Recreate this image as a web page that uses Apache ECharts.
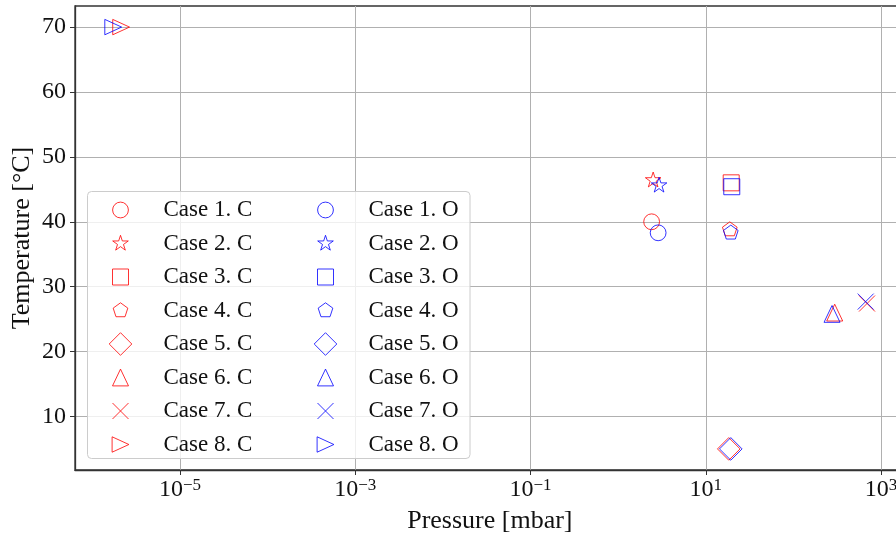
<!DOCTYPE html>
<html>
<head>
<meta charset="utf-8">
<script src="https://cdn.jsdelivr.net/npm/echarts@6/dist/echarts.min.js"></script>
<style>
html,body{margin:0;padding:0;background:#fff;}
#chart{width:896px;height:535px;}
</style>
</head>
<body>
<div id="chart"></div>
<script>
// ---- data ----
const caseLabels = ['Case 1.', 'Case 2.', 'Case 3.', 'Case 4.', 'Case 5.', 'Case 6.', 'Case 7.', 'Case 8.'];
const pressureC = [2.41, 2.51, 19.5, 18.8, 18.3, 296, 692, 2.13e-6];
const tempC     = [40.0, 46.4, 46.0, 38.8, 5.0, 26.0, 27.4, 70.0];
const pressureO = [2.86, 2.93, 19.8, 19.3, 19.3, 276, 668, 1.73e-6];
const tempO     = [38.3, 45.6, 45.4, 38.3, 5.0, 25.8, 27.7, 70.0];
const xTicks = [1e-5, 1e-3, 1e-1, 1e1, 1e3];
const yTicks = [10, 20, 30, 40, 50, 60, 70];
const colorC = '#ff0000';
const colorO = '#0000ff';

// ---- marker shapes (pixel units, centred at 0,0) ----
function poly(n, R, r, start) {
  const pts = [];
  const m = r ? 2 * n : n;
  for (let i = 0; i < m; i++) {
    const rad = (r && i % 2) ? r : R;
    const a = (start + i * 360 / m) * Math.PI / 180;
    pts.push((i ? 'L' : 'M') + (rad * Math.cos(a)).toFixed(3) + ',' + (rad * Math.sin(a)).toFixed(3));
  }
  return pts.join('') + 'Z';
}
const shapes = [
  'M7.9,0A7.9,7.9,0,1,1,-7.9,0A7.9,7.9,0,1,1,7.9,0Z',        // circle
  poly(5, 8.2, 8.2 * 0.381966, -90),                          // star
  'M-8,-8L8,-8L8,8L-8,8Z',                                    // square
  poly(5, 7.7, 0, -90),                                       // pentagon
  poly(4, 11.3, 0, -90),                                      // diamond
  'M0,-8.4L8,8.4L-8,8.4Z',                                    // triangle up
  'M-8,-8L8,8M8,-8L-8,8',                                     // x
  'M8.4,0L-8.4,-7.7L-8.4,7.7Z'                                // triangle right
];
const plotSym = s => 'path://' + s + 'M-12,-12M12,12';
const legSym = s => 'path://' + s + 'M-12,-12M38,12';

const FONT = 'Liberation Serif';
const series = [];
const legC = [], legO = [];
function addSeries(names, px, py, color, legArr) {
  for (let i = 0; i < names.length; i++) {
    series.push({
      name: names[i],
      type: 'scatter',
      symbol: plotSym(shapes[i]),
      symbolSize: 24,
      data: [[px[i], py[i]]],
      itemStyle: { color: 'rgba(255,255,255,0)', borderColor: color, borderWidth: 1 },
      emphasis: { disabled: true },
      z: 2
    });
    legArr.push({ name: names[i], icon: legSym(shapes[i]) });
  }
}
addSeries(caseLabels.map(c => c + ' C'), pressureC, tempC, colorC, legC);
addSeries(caseLabels.map(c => c + ' O'), pressureO, tempO, colorO, legO);

const legendCommon = {
  orient: 'vertical',
  top: 197.5,
  padding: 0,
  itemGap: 8.5,
  itemWidth: 50,
  itemHeight: 24,
  selectedMode: false,
  itemStyle: { borderWidth: 1 },
  textStyle: { fontFamily: FONT, fontSize: 23, color: '#111', lineHeight: 24 }
};

const chart = echarts.init(document.getElementById('chart'), null, { renderer: 'canvas' });
chart.setOption({
  animation: false,
  backgroundColor: '#fff',
  grid: {
    left: 75, top: 6, right: -8.7, bottom: 65,
    show: true, borderColor: '#333', borderWidth: 1.3, backgroundColor: 'transparent',
    containLabel: false, outerBoundsMode: 'none'
  },
  xAxis: {
    type: 'log', logBase: 10,
    min: Math.pow(10, -6.198), max: Math.pow(10, 3.27),
    name: 'Pressure [mbar]', nameLocation: 'middle', nameGap: 38, nameMoveOverlap: false,
    nameTextStyle: { fontFamily: FONT, fontSize: 26, color: '#111' },
    axisLine: { show: true, lineStyle: { color: '#333', width: 1.3 } },
    axisTick: { show: true, inside: false, length: 5, customValues: xTicks, lineStyle: { color: '#333', width: 1 } },
    minorTick: { show: false },
    splitLine: { show: true, lineStyle: { color: '#b0b0b0', width: 1 } },
    axisLabel: {
      customValues: xTicks,
      margin: 7,
      formatter: v => {
        const e = Math.round(Math.log10(v));
        return '{b|10}{s|' + (e < 0 ? '\u2212' + (-e) : e) + '}';
      },
      rich: {
        b: { fontFamily: FONT, fontSize: 24, color: '#111', lineHeight: 26 },
        s: { fontFamily: FONT, fontSize: 17, color: '#111', lineHeight: 14, verticalAlign: 'top' }
      }
    }
  },
  yAxis: {
    type: 'value', min: 1.75, max: 73.25,
    name: 'Temperature [\u00b0C]', nameLocation: 'middle', nameGap: 40, nameMoveOverlap: false,
    nameTextStyle: { fontFamily: FONT, fontSize: 26, color: '#111' },
    axisLine: { show: true, lineStyle: { color: '#333', width: 1.3 } },
    axisTick: { show: true, length: 5, customValues: yTicks, lineStyle: { color: '#333', width: 1 } },
    splitLine: { show: true, lineStyle: { color: '#b0b0b0', width: 1 } },
    axisLabel: { customValues: yTicks, margin: 9, fontFamily: FONT, fontSize: 24, color: '#111' }
  },
  legend: [
    Object.assign({}, legendCommon, { left: 108, data: legC }),
    Object.assign({}, legendCommon, { left: 313, data: legO })
  ],
  graphic: [{
    type: 'rect', z: 3,
    shape: { x: 87.5, y: 191.5, width: 382.5, height: 267, r: 4 },
    style: { fill: 'rgba(255,255,255,0.8)', stroke: '#cccccc', lineWidth: 1 }
  }],
  series: series
});
</script>
</body>
</html>
